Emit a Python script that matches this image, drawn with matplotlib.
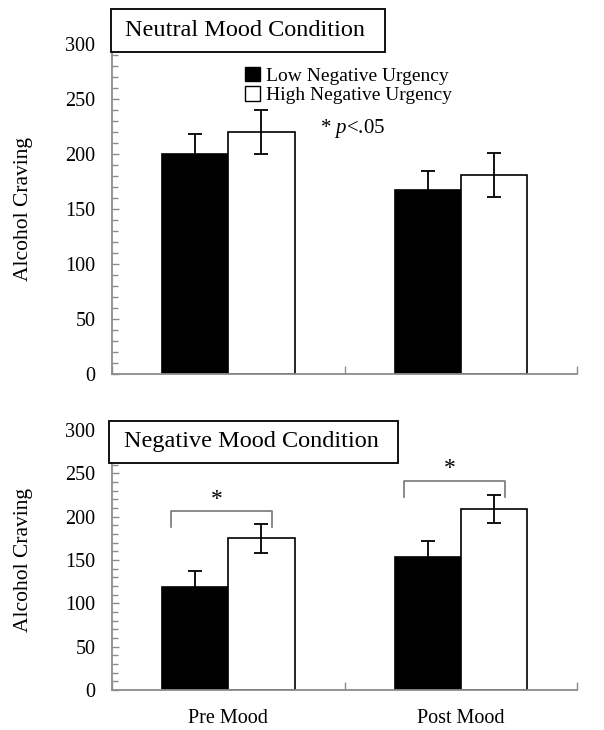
import numpy as np
import matplotlib
matplotlib.use('Agg')
import matplotlib.pyplot as plt
from matplotlib.patches import Patch, Rectangle

plt.rcParams['font.family'] = ['Liberation Serif', 'DejaVu Serif']
plt.rcParams['mathtext.fontset'] = 'custom'
plt.rcParams['mathtext.it'] = 'Liberation Serif:italic'
plt.rcParams['mathtext.rm'] = 'Liberation Serif'

categories = ['Pre Mood', 'Post Mood']
series = ['Low Negative Urgency', 'High Negative Urgency']

neutral_low = [200, 167]
neutral_low_err = [18, 18]
neutral_high = [220, 181]
neutral_high_err = [20, 20]

negative_low = [119, 153]
negative_low_err = [18, 19]
negative_high = [175, 209]
negative_high_err = [17, 16]

fig = plt.figure(figsize=(6.04, 7.3), dpi=100)
ax1 = fig.add_axes([0.1854, 0.4877, 0.7700, 0.4520])
ax2 = fig.add_axes([0.1854, 0.0548, 0.7700, 0.3562])

x = np.arange(len(categories))
w = 0.285
spine_col = '#8c8c8c'


def draw_panel(ax, low, low_err, high, high_err):
    ax.bar(x - w / 2, low, w, color='black', edgecolor='black', linewidth=1.2,
           yerr=low_err, error_kw=dict(ecolor='black', capsize=5, elinewidth=1.3, capthick=1.3))
    ax.bar(x + w / 2, high, w, color='white', edgecolor='black', linewidth=1.2,
           yerr=high_err, error_kw=dict(ecolor='black', capsize=5, elinewidth=1.3, capthick=1.3))
    ax.set_xlim(-0.5, 1.5)
    ax.set_ylim(0, 300)
    ax.set_yticks(np.arange(0, 301, 50))
    ax.set_yticks(np.arange(0, 301, 10), minor=True)
    for s in ['top', 'right']:
        ax.spines[s].set_visible(False)
    for s in ['left', 'bottom']:
        ax.spines[s].set_color(spine_col)
        ax.spines[s].set_linewidth(1.3)
    ax.tick_params(axis='y', which='major', direction='in', length=5, width=1,
                   color=spine_col, labelsize=14.5, pad=12)
    ax.tick_params(axis='y', which='minor', direction='in', length=4, width=1,
                   color=spine_col)
    ax.set_xticks([-0.5, 0.5, 1.5])
    ax.set_xticklabels([])
    ax.tick_params(axis='x', which='major', direction='in', length=6, width=1, color=spine_col)
    ax.set_ylabel('Alcohol Craving', fontsize=15.5)


draw_panel(ax1, neutral_low, neutral_low_err, neutral_high, neutral_high_err)
draw_panel(ax2, negative_low, negative_low_err, negative_high, negative_high_err)

ax2.set_xticks(x, minor=True)
ax2.set_xticklabels(categories, minor=True)
ax2.tick_params(axis='x', which='minor', length=0, labelsize=14.5, pad=14)

ax1.yaxis.set_label_coords(-0.17, 0.5)
ax2.yaxis.set_label_coords(-0.17, 0.5)

# legend
handles = [Patch(facecolor='black', edgecolor='black'),
           Patch(facecolor='white', edgecolor='black')]
ax1.legend(handles, series, loc='upper left', bbox_to_anchor=(0.27, 0.955),
           frameon=False, fontsize=14, handlelength=0.75, handleheight=0.75,
           handletextpad=0.3, labelspacing=0.1, borderaxespad=0)
ax1.text(0.448, 0.745, '* $p$<.05', transform=ax1.transAxes, fontsize=15,
         ha='left', va='center')

# significance brackets
brackets = [(0, 206, 188), (1, 241, 223)]
for cx, top, leg in brackets:
    x0, x1 = cx - 0.245, cx + 0.19
    ax2.plot([x0, x0, x1, x1], [leg, top, top, leg], color='#777777', lw=1.2, clip_on=False)
    ax2.text((x0 + x1) / 2 - 0.02, top + 2, '*', ha='center', va='bottom', fontsize=17)

# title boxes
W, H = 604, 730
boxes = [(111, 9, 385, 52, 'Neutral Mood Condition', 125),
         (109, 421, 398, 463, 'Negative Mood Condition', 124)]
for x0, y0, x1, y1, label, tx in boxes:
    fig.patches.append(Rectangle((x0 / W, 1 - y1 / H), (x1 - x0) / W, (y1 - y0) / H,
                                 transform=fig.transFigure, facecolor='white',
                                 edgecolor='black', linewidth=1.3, zorder=5))
    fig.text(tx / W, 1 - (y0 + y1) / 2 / H, label, fontsize=17.5, ha='left', va='center', zorder=6)

fig.savefig('out.png', dpi=100)
